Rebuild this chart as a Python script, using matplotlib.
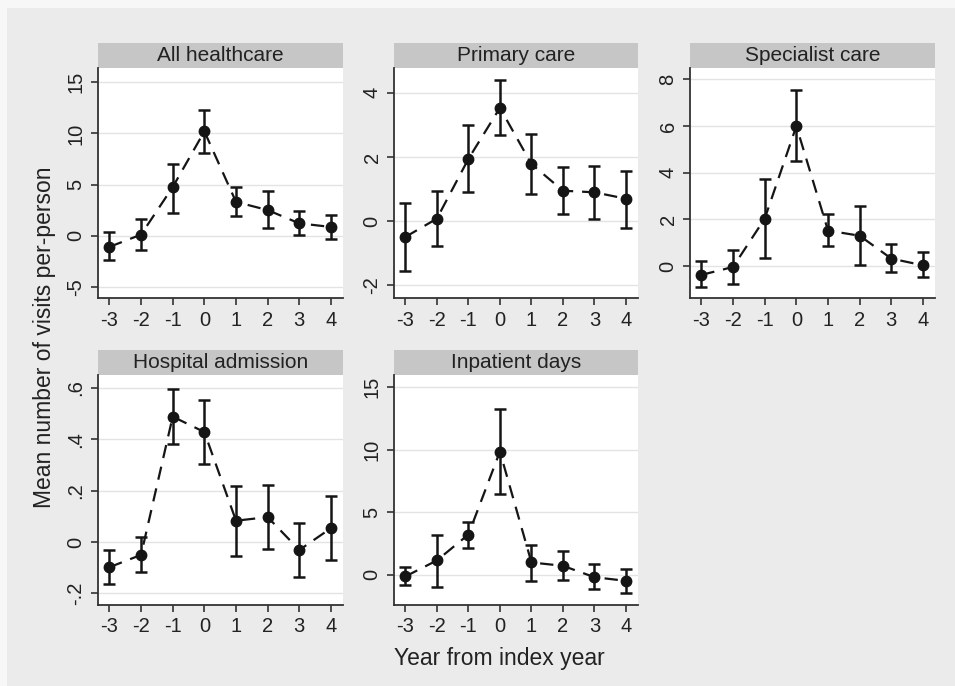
import matplotlib.pyplot as plt
from matplotlib.patches import Rectangle
import numpy as np

plt.rcParams['font.family'] = ['Liberation Sans', 'DejaVu Sans']

years = [-3, -2, -1, 0, 1, 2, 3, 4]

titles = ["All healthcare", "Primary care", "Specialist care",
          "Hospital admission", "Inpatient days"]

all_mean = [-1.1, 0.1, 4.75, 10.2, 3.3, 2.5, 1.2, 0.85]
all_lo = [-2.4, -1.45, 2.25, 8.05, 1.9, 0.7, 0.05, -0.35]
all_hi = [0.35, 1.65, 7.0, 12.25, 4.75, 4.4, 2.45, 2.05]

prim_mean = [-0.49, 0.08, 1.94, 3.53, 1.78, 0.95, 0.9, 0.7]
prim_lo = [-1.55, -0.77, 0.92, 2.67, 0.86, 0.21, 0.06, -0.2]
prim_hi = [0.56, 0.95, 2.98, 4.39, 2.71, 1.70, 1.73, 1.57]

spec_mean = [-0.38, -0.04, 2.03, 6.0, 1.52, 1.3, 0.32, 0.03]
spec_lo = [-0.91, -0.77, 0.36, 4.5, 0.84, 0.06, -0.27, -0.49]
spec_hi = [0.2, 0.68, 3.72, 7.55, 2.21, 2.58, 0.94, 0.59]

hosp_mean = [-0.098, -0.05, 0.488, 0.428, 0.083, 0.097, -0.031, 0.054]
hosp_lo = [-0.165, -0.118, 0.38, 0.304, -0.053, -0.027, -0.135, -0.07]
hosp_hi = [-0.032, 0.021, 0.594, 0.554, 0.22, 0.222, 0.074, 0.18]

inp_mean = [-0.13, 1.15, 3.22, 9.85, 0.99, 0.72, -0.19, -0.48]
inp_lo = [-0.8, -0.94, 2.15, 6.49, -0.48, -0.4, -1.15, -1.48]
inp_hi = [0.59, 3.22, 4.24, 13.28, 2.41, 1.93, 0.86, 0.48]

means = [all_mean, prim_mean, spec_mean, hosp_mean, inp_mean]
los = [all_lo, prim_lo, spec_lo, hosp_lo, inp_lo]
his = [all_hi, prim_hi, spec_hi, hosp_hi, inp_hi]

yticks = [[-5, 0, 5, 10, 15], [-2, 0, 2, 4], [0, 2, 4, 6, 8],
          [-0.2, 0, 0.2, 0.4, 0.6], [0, 5, 10, 15]]
ytlabels = [["-5", "0", "5", "10", "15"], ["-2", "0", "2", "4"],
            ["0", "2", "4", "6", "8"], ["-.2", "0", ".2", ".4", ".6"],
            ["0", "5", "10", "15"]]
ylims = [(-6.1, 16.4), (-2.39, 4.77), (-1.37, 8.49), (-0.245, 0.65), (-2.41, 15.97)]

W, H = 955, 686
fig = plt.figure(figsize=(W / 100, H / 100), dpi=100)
fig.patch.set_facecolor('#f7f7f7')
fig.patches.append(Rectangle((7 / W, 0), 1, 1 - 8 / H, transform=fig.transFigure,
                             facecolor='#ebebeb', edgecolor='none', zorder=-10))

# pixel boxes: left, right, top, bottom of plot area
boxes = [(98, 343, 68, 298), (394, 638, 68, 298), (690, 935, 68, 298),
         (98, 343, 375, 605), (394, 638, 375, 605)]
strip_h = 25

for i, (l, r, t, b) in enumerate(boxes):
    ax = fig.add_axes([l / W, 1 - b / H, (r - l) / W, (b - t) / H])
    ax.set_facecolor('white')
    m = np.array(means[i])
    lo = np.array(los[i])
    hi = np.array(his[i])
    ax.errorbar(years, m, yerr=[m - lo, hi - m], fmt='none', ecolor='#151515',
                elinewidth=1.8, capsize=4.5, capthick=1.8, zorder=3)
    ax.plot(years, m, color='#151515', lw=1.6, ls=(0, (6, 4)), marker='o',
            ms=7.5, zorder=4)
    ax.set_xlim(-3.36, 4.38)
    ax.set_ylim(*ylims[i])
    ax.set_xticks(years)
    ax.set_xticklabels([str(y) for y in years])
    ax.set_yticks(yticks[i])
    ax.set_yticklabels(ytlabels[i], rotation=90, va='center')
    ax.grid(axis='y', color='#e3e3e3', lw=1)
    ax.set_axisbelow(True)
    for s in ['top', 'right']:
        ax.spines[s].set_visible(False)
    for s in ['left', 'bottom']:
        ax.spines[s].set_color('#333333')
        ax.spines[s].set_linewidth(1.3)
    ax.tick_params(direction='out', length=5, width=1.2, colors='#333333',
                   labelsize=14.5, labelcolor='#222222', pad=4)
    # strip header
    fig.patches.append(Rectangle((l / W, 1 - t / H), (r - l) / W, strip_h / H,
                                 transform=fig.transFigure, facecolor='#c6c6c6',
                                 edgecolor='none', zorder=-5))
    fig.text((l + r) / 2 / W, 1 - (t - strip_h / 2) / H, titles[i],
             ha='center', va='center', fontsize=15, color='#222222')

fig.text(44 / W, 1 - 337 / H, "Mean number of visits per-person", rotation=90,
         ha='center', va='center', fontsize=16.5, color='#222222')
fig.text(499 / W, 1 - 658 / H, "Year from index year", ha='center', va='center',
         fontsize=16.5, color='#222222')

plt.savefig("out.png", dpi=100)
